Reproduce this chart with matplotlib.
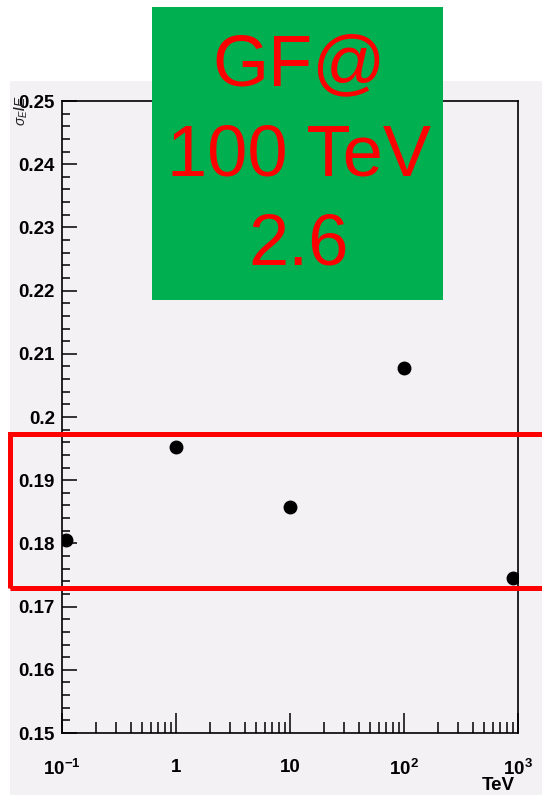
import matplotlib
matplotlib.use("Agg")
import matplotlib.pyplot as plt
from matplotlib.patches import Rectangle
from matplotlib.ticker import FixedLocator, FixedFormatter, LogLocator, NullFormatter

plt.rcParams['font.family'] = ['Liberation Sans', 'DejaVu Sans']
plt.rcParams['mathtext.fontset'] = 'custom'
plt.rcParams['mathtext.rm'] = 'Liberation Sans:bold'
plt.rcParams['mathtext.bf'] = 'Liberation Sans:bold'
plt.rcParams['mathtext.it'] = 'Liberation Sans:italic'

# data
energy_tev = [0.108, 1.0, 10.0, 100.0, 910.0]
resolution = [0.1806, 0.1953, 0.1858, 0.2078, 0.1745]

y_ticks = [0.15, 0.16, 0.17, 0.18, 0.19, 0.20, 0.21, 0.22, 0.23, 0.24, 0.25]
y_tick_labels = ['0.15', '0.16', '0.17', '0.18', '0.19', '0.2',
                 '0.21', '0.22', '0.23', '0.24', '0.25']
x_ticks = [0.1, 1, 10, 100, 1000]
x_tick_labels = [r'$\mathbf{10^{-1}}$', '1', '10', r'$\mathbf{10^{2}}$', r'$\mathbf{10^{3}}$']
box_lines = ['GF@', '100 TeV', '2.6']

W, H = 542, 795
panel_col = '#f4f1f5'

fig = plt.figure(figsize=(W / 100, H / 100), dpi=100)
fig.patch.set_facecolor('white')

# grey ROOT canvas
fig.add_artist(Rectangle((10 / W, 0), 1, 1 - 81 / H, transform=fig.transFigure,
                         facecolor=panel_col, edgecolor='none', zorder=-10))

ax = fig.add_axes([62 / W, 1 - 733 / H, (518 - 62) / W, (733 - 101) / H])
ax.set_facecolor(panel_col)
ax.plot(energy_tev, resolution, 'o', color='black', markersize=9)
ax.set_xscale('log')
ax.set_xlim(0.1, 1000)
ax.set_ylim(0.15, 0.25)

ax.yaxis.set_major_locator(FixedLocator(y_ticks))
ax.yaxis.set_major_formatter(FixedFormatter(y_tick_labels))
ax.yaxis.set_minor_locator(FixedLocator([0.15 + 0.002 * i for i in range(51)]))
ax.xaxis.set_major_locator(FixedLocator(x_ticks))
ax.xaxis.set_major_formatter(FixedFormatter(x_tick_labels))
ax.xaxis.set_minor_locator(LogLocator(base=10, subs=range(2, 10)))
ax.xaxis.set_minor_formatter(NullFormatter())

for s in ax.spines.values():
    s.set_linewidth(1.2)
ax.tick_params(axis='y', which='major', direction='in', length=10.8, width=1.1,
               pad=5, labelsize=13.5)
ax.tick_params(axis='y', which='minor', direction='in', length=5.8, width=1.1)
ax.tick_params(axis='x', which='major', direction='in', length=14.4, width=1.1,
               pad=19, labelsize=13.5)
ax.tick_params(axis='x', which='minor', direction='in', length=8, width=1.1)
for lab in ax.get_xticklabels() + ax.get_yticklabels():
    lab.set_fontweight('bold')

fig.text(515 / W, 1 - 790 / H, 'TeV', ha='right', va='baseline',
         fontsize=13.5, fontweight='bold')
fig.text(21 / W, 1 - 96 / H, r'$\sigma_{E}/E$', rotation=90, ha='center',
         va='top', fontsize=10, color='#222222')

# green annotation box
fig.add_artist(Rectangle((152 / W, 1 - 300 / H), (443 - 152) / W, (300 - 7) / H,
                         transform=fig.transFigure, facecolor='#00b050',
                         edgecolor='none', zorder=10))
for txt, base in zip(box_lines, [85, 175, 265]):
    fig.text(299 / W, 1 - base / H, txt, ha='center', va='baseline',
             fontsize=52, color='#ff0000', zorder=11)

# red highlight frame
fig.add_artist(Rectangle((10 / W, 1 - 587.5 / H), 1, (587.5 - 434) / H,
                         transform=fig.transFigure, facecolor='none',
                         edgecolor='#ff0000', linewidth=3.6, zorder=12))

fig.savefig('out.png', dpi=100)
